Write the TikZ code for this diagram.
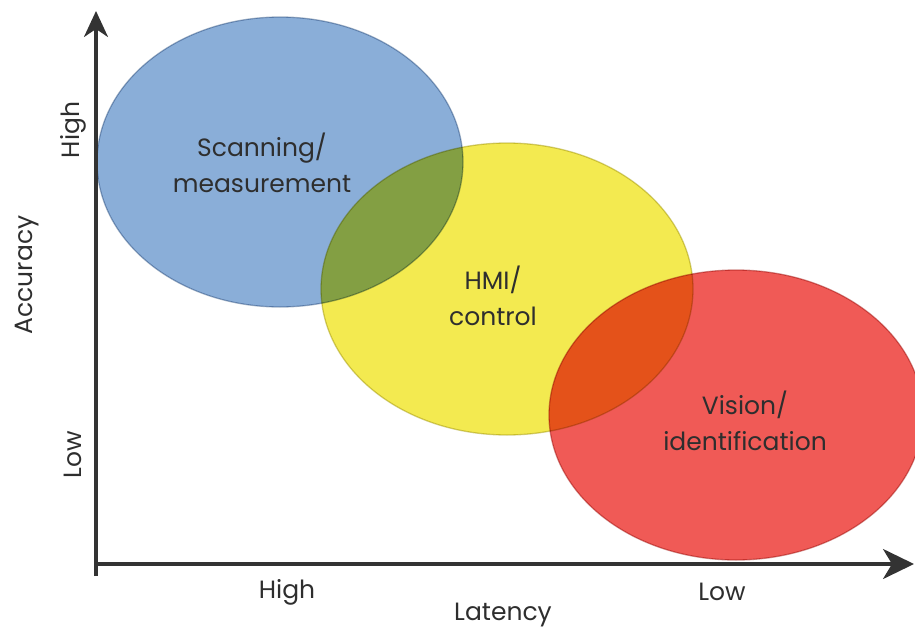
\documentclass[tikz,border=0pt]{standalone}
\usepackage{fontspec}
\setmainfont{Poppins}
\usepackage{tikz}
\usetikzlibrary{arrows.meta}
\colorlet{axisGray}{black!80}
\colorlet{textGray}{black!82}
\definecolor{scanBlue}{RGB}{138,174,216}
\definecolor{hmiYellow}{RGB}{243,234,80}
\definecolor{visionRed}{RGB}{240,90,86}
\tikzset{
  % the three application fields, overlaps come from the multiply blend
  field/.style={
    draw=#1!75!black,
    fill=#1,
    line width=1.3pt,
    draw opacity=0.6,
    blend mode=multiply
  },
  fieldlabel/.style={
    font=\fontsize{25}{36}\selectfont,
    text=textGray,
    align=center
  },
  axis/.style={
    line width=3.2pt,
    draw=axisGray
  },
  ticklabel/.style={
    font=\fontsize{25}{28}\selectfont,
    text=textGray
  }
}
\begin{document}
\begin{tikzpicture}[x=1pt,y=-1pt]
\useasboundingbox (0,0) rectangle (915,634);

% fields
\path[field=scanBlue] (280,162) ellipse [x radius=183,y radius=145];
\path[field=hmiYellow] (507,289) ellipse [x radius=186,y radius=146];
\path[field=visionRed] (736,415) ellipse [x radius=187,y radius=145];

\node[fieldlabel] (scan) at (262,163) {Scanning/\\measurement};
\node[fieldlabel] (hmi) at (493,296) {HMI/\\control};
\node[fieldlabel] (vision) at (745,421) {Vision/\\identification};

% axes
\coordinate (origin) at (96,564);
\coordinate (ybottom) at (96,576);
\coordinate (ytip) at (96,11);
\coordinate (xtip) at (914,564);
\draw[axis,-{Stealth[length=26pt,width=24pt,inset=8pt]}] (ybottom) -- (ytip);
\draw[axis,-{Stealth[length=31pt,width=30pt,inset=9pt]}] (origin) -- (xtip);

\node[ticklabel,rotate=90] (yhigh) at (73,130) {High};
\node[ticklabel,rotate=90] (ylow) at (73,455) {Low};
\node[ticklabel,rotate=90] (ylabel) at (27,275) {Accuracy};
\node[ticklabel] (xhigh) at (287,592) {High};
\node[ticklabel] (xlow) at (722,592) {Low};
\node[ticklabel] (xlabel) at (503,615) {Latency};

\end{tikzpicture}
\end{document}
